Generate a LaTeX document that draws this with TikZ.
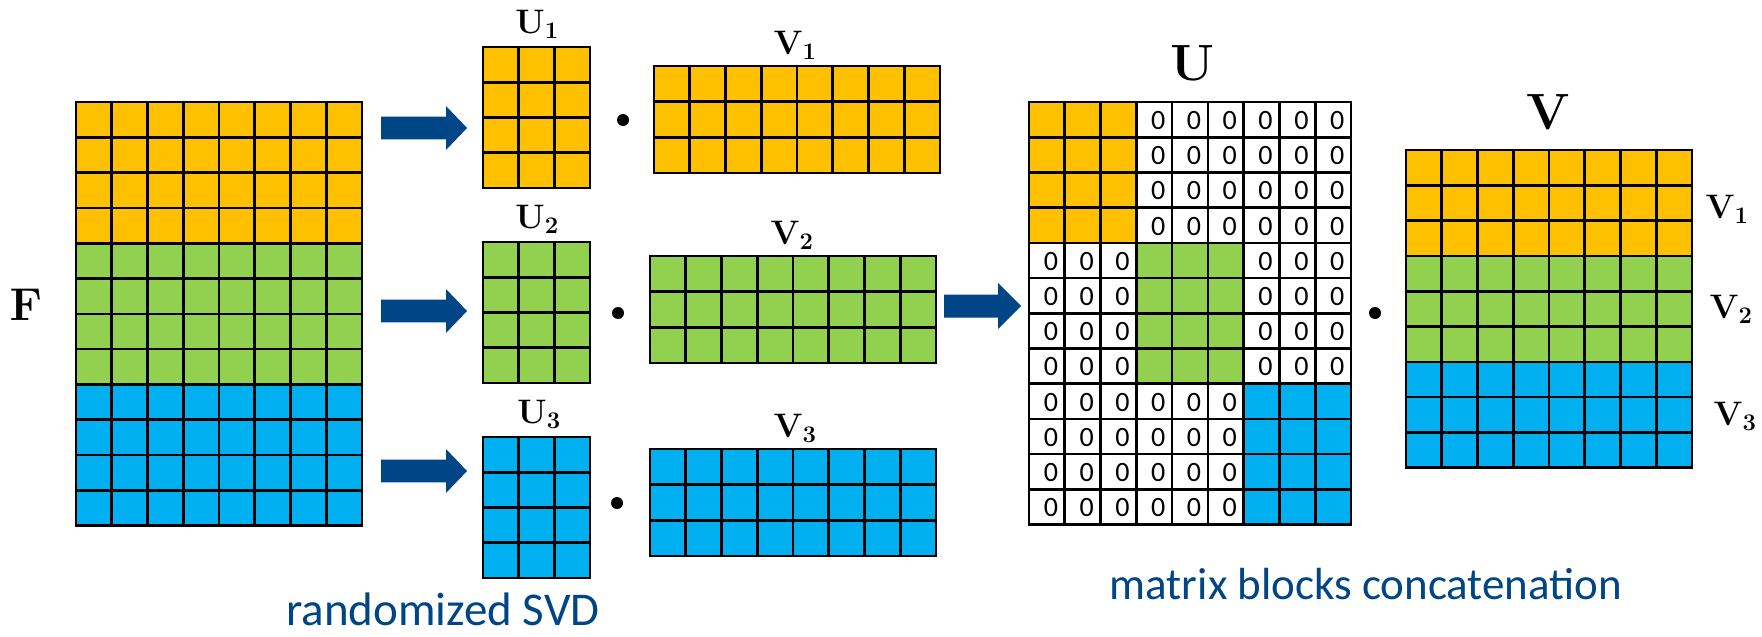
\RequirePackage{fix-cm}
\documentclass[tikz,border=0pt]{standalone}
\usepackage[no-math]{fontspec}
\setmainfont{Carlito}
\definecolor{orangeC}{HTML}{FFC000}
\definecolor{greenC}{HTML}{92D050}
\definecolor{blueC}{HTML}{00B0F0}
\definecolor{arrowC}{RGB}{0,69,134}
\tikzset{
  gridline/.style={draw=black, line width=2.6pt, line cap=rect},
  zero/.style={inner sep=0pt, font=\fontsize{28}{30}\selectfont},
  mlabel/.style={anchor=base, inner sep=0pt, font=\fontsize{34}{36}\selectfont},
  biglabel/.style={anchor=base, inner sep=0pt, font=\fontsize{51}{54}\selectfont},
  caption/.style={anchor=base, inner sep=0pt, text=arrowC, font=\fontsize{46}{49}\selectfont},
  dotnode/.style={circle, fill=black, inner sep=0pt, minimum size=12pt},
}
% name, x0, y0, cols, rows, cell width, row height, fill colour
\newcommand\matgrid[8]{%
  \node[anchor=north west, inner sep=0pt, outer sep=0pt, fill=#8,
        minimum width={#4*#6*1pt}, minimum height={#5*#7*1pt}] (#1) at (#2,#3) {};
  \foreach \i in {0,...,#4}{\draw[gridline] ([xshift={\i*#6*1pt}]#1.north west) -- ([xshift={\i*#6*1pt}]#1.south west);}
  \foreach \j in {0,...,#5}{\draw[gridline] ([yshift={-\j*#7*1pt}]#1.north west) -- ([yshift={-\j*#7*1pt}]#1.north east);}
}
% x start, y centre, shaft half height, head half height, head base x, tip x
\newcommand\blockarrow[6]{%
  \fill[arrowC] (#1,{#2-#3}) -- (#5,{#2-#3}) -- (#5,{#2-#4}) -- (#6,#2)
     -- (#5,{#2+#4}) -- (#5,{#2+#3}) -- (#1,{#2+#3}) -- cycle;
}
\begin{document}
\begin{tikzpicture}[x=1pt,y=-1pt]
\useasboundingbox (0,0) rectangle (1762,637);
% ---- F ----
\node[anchor=base, inner sep=0pt, font=\fontsize{46}{48}\selectfont] (Flab) at (26,320) {$\mathbf{F}$};
\matgrid{F1}{76}{102}{8}{4}{35.75}{35.3}{orangeC}
\matgrid{F2}{76}{243.2}{8}{4}{35.75}{35.3}{greenC}
\matgrid{F3}{76}{384.4}{8}{4}{35.75}{35.3}{blueC}
% ---- arrows ----
\blockarrow{381}{128}{11.3}{22}{446}{467}
\blockarrow{381}{311}{11.3}{22}{446}{467}
\blockarrow{381}{471}{11.3}{22}{446}{467}
% ---- U_i, V_i ----
\matgrid{U1}{483}{47}{3}{4}{35.67}{35.25}{orangeC}
\matgrid{U2}{483}{242}{3}{4}{35.67}{35.25}{greenC}
\matgrid{U3}{483}{437}{3}{4}{35.67}{35.25}{blueC}
\matgrid{V1}{654}{66}{8}{3}{35.75}{35.67}{orangeC}
\matgrid{V2}{650}{256}{8}{3}{35.75}{35.67}{greenC}
\matgrid{V3}{650}{449}{8}{3}{35.75}{35.67}{blueC}
\node[mlabel] (U1lab) at (537,33) {$\mathbf{U}_{\mathbf{1}}$};
\node[mlabel] (U2lab) at (537,228) {$\mathbf{U}_{\mathbf{2}}$};
\node[mlabel] (U3lab) at (539,423) {$\mathbf{U}_{\mathbf{3}}$};
\node[mlabel] (V1lab) at (795,54) {$\mathbf{V}_{\mathbf{1}}$};
\node[mlabel] (V2lab) at (792,244) {$\mathbf{V}_{\mathbf{2}}$};
\node[mlabel] (V3lab) at (795,437) {$\mathbf{V}_{\mathbf{3}}$};
\node[dotnode] (d1) at (623,120) {};
\node[dotnode] (d2) at (618,313) {};
\node[dotnode] (d3) at (617,503) {};
\node[caption, font=\fontsize{47}{50}\selectfont] (cap1) at (443,625) {randomized SVD};
% ---- big arrow ----
\blockarrow{944}{306}{11.5}{23}{998}{1021}
% ---- U ----
\node[anchor=north west, inner sep=0pt, outer sep=0pt, fill=white,
      minimum width={9*35.78pt}, minimum height={12*35.2pt}] (Ubg) at (1029,102) {};
\fill[orangeC] (1029,102) rectangle ++({3*35.78},{4*35.2});
\fill[greenC] ({1029+3*35.78},{102+4*35.2}) rectangle ++({3*35.78},{4*35.2});
\fill[blueC] ({1029+6*35.78},{102+8*35.2}) rectangle ++({3*35.78},{4*35.2});
\foreach \r in {0,...,3}{\foreach \c in {3,...,8}{
  \node[zero] (z-\r-\c) at ({1029+(\c+0.5)*35.78+4},{102+(\r+0.5)*35.2+1}) {0};}}
\foreach \r in {4,...,7}{\foreach \c in {0,1,2,6,7,8}{
  \node[zero] (z-\r-\c) at ({1029+(\c+0.5)*35.78+4},{102+(\r+0.5)*35.2+1}) {0};}}
\foreach \r in {8,...,11}{\foreach \c in {0,...,5}{
  \node[zero] (z-\r-\c) at ({1029+(\c+0.5)*35.78+4},{102+(\r+0.5)*35.2+1}) {0};}}
\foreach \i in {0,...,9}{\draw[gridline] ([xshift={\i*35.78pt}]Ubg.north west) -- ([xshift={\i*35.78pt}]Ubg.south west);}
\foreach \j in {0,...,12}{\draw[gridline] ([yshift={-\j*35.2pt}]Ubg.north west) -- ([yshift={-\j*35.2pt}]Ubg.north east);}
\node[biglabel] (Ulab) at (1193,80) {$\mathbf{U}$};
\node[dotnode] (d4) at (1375,313) {};
% ---- V ----
\matgrid{VA}{1406}{150}{8}{3}{35.75}{35.3}{orangeC}
\matgrid{VB}{1406}{255.9}{8}{3}{35.75}{35.3}{greenC}
\matgrid{VC}{1406}{361.8}{8}{3}{35.75}{35.3}{blueC}
\node[biglabel] (Vlab) at (1549,129) {$\mathbf{V}$};
\node[mlabel] (VAlab) at (1727,218) {$\mathbf{V}_{\mathbf{1}}$};
\node[mlabel] (VBlab) at (1731,318) {$\mathbf{V}_{\mathbf{2}}$};
\node[mlabel] (VClab) at (1735,425) {$\mathbf{V}_{\mathbf{3}}$};
\node[caption, font=\fontsize{45}{48}\selectfont] (cap2) at (1366,599) {matrix blocks concatenation};
\end{tikzpicture}
\end{document}
